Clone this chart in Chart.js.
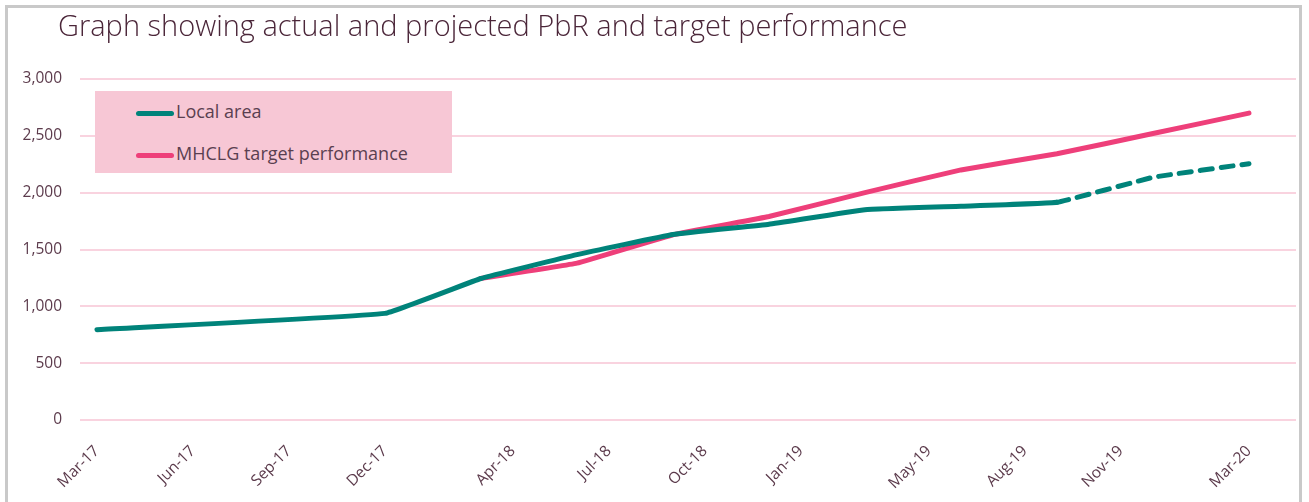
<!DOCTYPE html>
<html>
<head>
<meta charset="utf-8">
<script src="https://cdn.jsdelivr.net/npm/chart.js@4/dist/chart.umd.min.js"></script>
<style>
    html, body { margin: 0; padding: 0; background: #ffffff; overflow: hidden; }
    #frame {
        position: absolute; left: 5px; top: 5px; width: 1297px; height: 520px;
        border: 3px solid #c9c9c9; border-bottom: none; box-sizing: border-box;
    }
    #title {
        position: absolute; left: 58px; top: 5px; font-family: "Open Sans", sans-serif;
        font-size: 29px; color: #4b2639; white-space: nowrap; font-weight: 300;
    }
    #legend {
        position: absolute; left: 95px; top: 91px; width: 357px; height: 82px;
        background: #f7c7d5; font-family: "Open Sans", sans-serif; font-size: 18px; color: #5a4050;
    }
    #legend .item { position: absolute; left: 41px; height: 22px; line-height: 22px; white-space: nowrap; }
    #legend .swatch { display: inline-block; width: 38px; height: 5px; border-radius: 3px; vertical-align: middle; margin-right: 2px; }
    #wrap { position: absolute; left: 0; top: 0; width: 1309px; height: 502px; }
</style>
</head>
<body>
<div id="frame"></div>
<div id="wrap"><canvas id="chart"></canvas></div>
<div id="title">Graph showing actual and projected PbR and target performance</div>
<div id="legend"></div>
<script>
    // months counted from Mar-17
    const tickMonths = [0, 3, 6, 9, 13, 16, 19, 22, 26, 29, 32, 36];
    const tickLabels = ['Mar-17', 'Jun-17', 'Sep-17', 'Dec-17', 'Apr-18', 'Jul-18', 'Oct-18', 'Jan-19', 'May-19', 'Aug-19', 'Nov-19', 'Mar-20'];

    const localMonths = [0, 9, 12, 15, 18, 21, 24, 27, 30, 33, 36];
    const localValues = [795, 938, 1245, 1455, 1632, 1722, 1850, 1880, 1915, 2135, 2255];
    const projectedFrom = 30; // dashed after Sep-19

    const targetMonths = [12, 15, 18, 21, 24, 27, 30, 33, 36];
    const targetValues = [1245, 1380, 1630, 1790, 2000, 2200, 2342, 2520, 2700];

    const teal = '#00837a';
    const pink = '#ee3f7a';
    const textColor = '#5c3b4c';

    function toPoints(xs, ys) {
        return xs.map(function (x, i) { return { x: x, y: ys[i] }; });
    }

    const chart = new Chart(document.getElementById('chart'), {
        type: 'line',
        data: {
            datasets: [
                {
                    label: 'Local area',
                    data: toPoints(localMonths, localValues),
                    borderColor: teal,
                    backgroundColor: teal,
                    borderWidth: 5,
                    tension: 0.08,
                    pointRadius: 0,
                    borderCapStyle: 'round',
                    segment: {
                        borderDash: function (ctx) {
                            return ctx.p0.parsed.x >= projectedFrom ? [12, 9] : undefined;
                        }
                    }
                },
                {
                    label: 'MHCLG target performance',
                    data: toPoints(targetMonths, targetValues),
                    borderColor: pink,
                    backgroundColor: pink,
                    borderWidth: 5,
                    tension: 0.08,
                    pointRadius: 0,
                    borderCapStyle: 'round'
                }
            ]
        },
        options: {
            responsive: true,
            maintainAspectRatio: false,
            animation: false,
            layout: { padding: { top: 79, right: 13, bottom: 0, left: 0 } },
            plugins: {
                legend: { display: false },
                tooltip: { enabled: false }
            },
            scales: {
                x: {
                    type: 'linear',
                    min: -0.53,
                    max: 37.47,
                    afterBuildTicks: function (scale) {
                        scale.ticks = tickMonths.map(function (m) { return { value: m }; });
                    },
                    afterFit: function (scale) { scale.height = 82; },
                    grid: { display: false },
                    border: { display: false },
                    ticks: {
                        autoSkip: false,
                        maxRotation: 45,
                        minRotation: 45,
                        padding: 14,
                        color: textColor,
                        font: { family: 'Open Sans', size: 15.5 },
                        callback: function (value) {
                            const i = tickMonths.indexOf(value);
                            return i >= 0 ? tickLabels[i] : '';
                        }
                    }
                },
                y: {
                    min: 0,
                    max: 3000,
                    afterFit: function (scale) { scale.width = 80; },
                    grid: { color: '#f9d3df', lineWidth: 2, drawTicks: false },
                    border: { display: false },
                    ticks: {
                        stepSize: 500,
                        padding: 18,
                        color: textColor,
                        font: { family: 'Open Sans', size: 15.5 },
                        callback: function (value) {
                            return value.toLocaleString('en-GB');
                        }
                    }
                }
            }
        }
    });

    const legend = document.getElementById('legend');
    chart.data.datasets.forEach(function (ds, i) {
        const item = document.createElement('div');
        item.className = 'item';
        item.style.top = (9 + i * 42) + 'px';
        item.innerHTML = '<span class="swatch" style="background:' + ds.borderColor + '"></span>' + ds.label;
        legend.appendChild(item);
    });
</script>
</body>
</html>
